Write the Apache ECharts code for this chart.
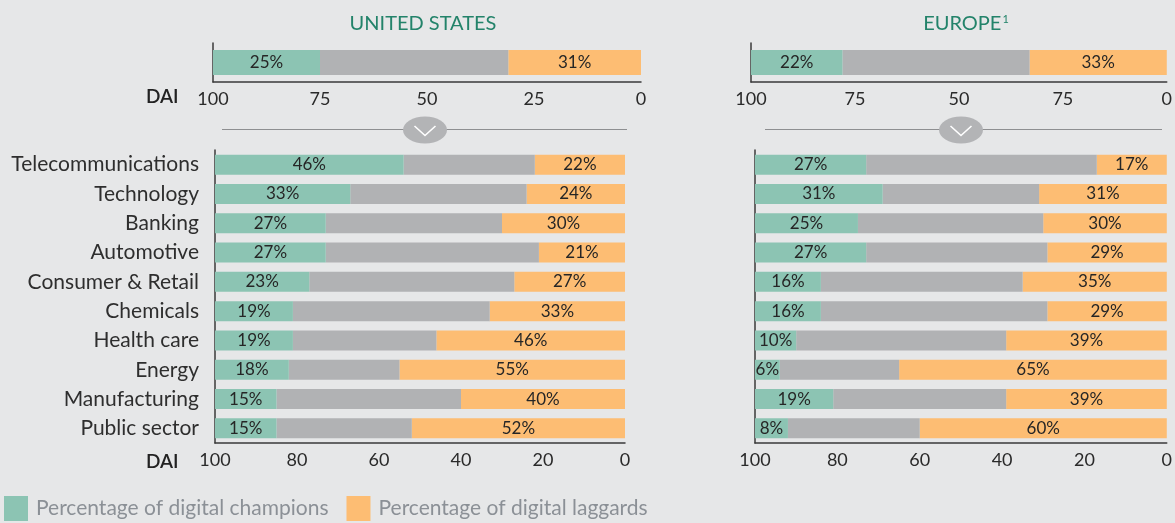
<!DOCTYPE html>
<html>
<head>
<meta charset="utf-8">
<script src="https://cdn.jsdelivr.net/npm/echarts@6/dist/echarts.min.js"></script>
<style>
html, body { margin: 0; padding: 0; background: #e6e7e8; }
#chart { width: 1175px; height: 523px; }
</style>
</head>
<body>
<div id="chart"></div>
<script>
// summary bars (DAI overall)
var usTotalChampions = [25];
var usTotalLaggards = [31];
var euTotalChampions = [22];
var euTotalLaggards = [33];

// industries
var industries = ['Telecommunications', 'Technology', 'Banking', 'Automotive', 'Consumer & Retail',
    'Chemicals', 'Health care', 'Energy', 'Manufacturing', 'Public sector'];
var usChampions = [46, 33, 27, 27, 23, 19, 19, 18, 15, 15];
var usLaggards = [22, 24, 30, 21, 27, 33, 46, 55, 40, 52];
var euChampions = [27, 31, 25, 27, 16, 16, 10, 6, 19, 8];
var euLaggards = [17, 31, 30, 29, 35, 29, 39, 65, 39, 60];

// tick labels, left to right (the europe summary axis reads 75 twice in the original)
var usTopTicks = ['100', '75', '50', '25', '0'];
var euTopTicks = ['100', '75', '50', '75', '0'];
var bottomTicks = ['100', '80', '60', '40', '20', '0'];

var GREEN = '#8cc4b3', GRAY = '#b1b2b4', ORANGE = '#fdbd73';
var FONT = 'Lato';
var CHAMP = 'Percentage of digital champions';
var LAG = 'Percentage of digital laggards';

function rest(g, o) {
    return g.map(function (v, i) { return 100 - v - o[i]; });
}

function xAxisFor(grid, step, ticks) {
    return {
        type: 'value', gridIndex: grid, min: 0, max: 100, interval: step, inverse: true,
        splitLine: { show: false },
        axisTick: { show: false },
        axisLine: { show: true, onZero: false, lineStyle: { color: '#3a3a3a', width: 1.5 } },
        axisLabel: {
            color: '#2a2a2a', fontSize: 18, fontFamily: FONT, margin: 8,
            formatter: function (v) { return ticks[Math.round((100 - v) / step)]; }
        }
    };
}

function yAxisFor(grid, cats, showLabels) {
    return {
        type: 'category', gridIndex: grid, data: cats, inverse: true, position: 'left',
        axisTick: { show: false },
        axisLine: { show: true, onZero: false, lineStyle: { color: '#3a3a3a', width: 1.5 } },
        axisLabel: { show: showLabels, color: '#2e2e2e', fontSize: 21, fontFamily: FONT, margin: 16 }
    };
}

function barSet(idx, champ, lag, width) {
    var lbl = { show: true, position: 'inside', color: '#262626', fontSize: 17, fontFamily: FONT, formatter: '{c}%' };
    return [
        { name: LAG, type: 'bar', xAxisIndex: idx, yAxisIndex: idx, stack: 's' + idx, data: lag,
          barWidth: width, itemStyle: { color: ORANGE }, label: lbl },
        { name: 'rest', type: 'bar', xAxisIndex: idx, yAxisIndex: idx, stack: 's' + idx, data: rest(champ, lag),
          barWidth: width, itemStyle: { color: GRAY }, label: { show: false } },
        { name: CHAMP, type: 'bar', xAxisIndex: idx, yAxisIndex: idx, stack: 's' + idx, data: champ,
          barWidth: width, itemStyle: { color: GREEN }, label: lbl }
    ];
}

// the little chevron dividers
function divider(x1, x2, cx) {
    return [
        { type: 'line', shape: { x1: x1, y1: 129.5, x2: x2, y2: 129.5 }, style: { stroke: '#8e8f91', lineWidth: 1 } },
        { type: 'ellipse', shape: { cx: cx, cy: 130, rx: 22, ry: 13.5 }, style: { fill: '#b3b4b6' } },
        { type: 'polyline', shape: { points: [[cx - 10.5, 126], [cx, 135.5], [cx + 10.5, 126]] },
          style: { stroke: '#fff', lineWidth: 1.6, fill: null } }
    ];
}

var chart = echarts.init(document.getElementById('chart'));
chart.setOption({
    backgroundColor: '#e6e7e8',
    animation: false,
    title: [
        { text: 'UNITED STATES', left: 418, top: 9, textAlign: 'center',
          textStyle: { color: '#23836a', fontSize: 20, fontWeight: 'normal', fontFamily: FONT } },
        { text: 'EUROPE{sup|1}', left: 961, top: 9, textAlign: 'center',
          textStyle: { color: '#23836a', fontSize: 20, fontWeight: 'normal', fontFamily: FONT,
              rich: { sup: { fontSize: 11, verticalAlign: 'top', padding: [0, 0, 8, 1], color: '#23836a', fontFamily: FONT } } } }
    ],
    legend: {
        data: [CHAMP, LAG], left: 4, top: 496, padding: 0, icon: 'rect', itemWidth: 24, itemHeight: 25, itemGap: 18,
        textStyle: { color: '#8b9096', fontSize: 21, fontFamily: FONT, padding: [0, 0, 2, 3] },
        selectedMode: false
    },
    grid: [
        { left: 213, right: 534, top: 43, height: 39 },
        { left: 751, right: 6, top: 43, height: 39 },
        { left: 215, right: 550, top: 150, height: 293 },
        { left: 755, right: 6, top: 150, height: 293 }
    ],
    xAxis: [
        xAxisFor(0, 25, usTopTicks),
        xAxisFor(1, 25, euTopTicks),
        xAxisFor(2, 20, bottomTicks),
        xAxisFor(3, 20, bottomTicks)
    ],
    yAxis: [
        yAxisFor(0, ['US'], false),
        yAxisFor(1, ['EU'], false),
        yAxisFor(2, industries, true),
        yAxisFor(3, industries, false)
    ],
    graphic: [
        { type: 'text', left: 146, top: 87, style: { text: 'DAI', fontSize: 19, fontWeight: 600, fontFamily: FONT, fill: '#222' } },
        { type: 'text', left: 146, top: 452, style: { text: 'DAI', fontSize: 19, fontWeight: 600, fontFamily: FONT, fill: '#222' } }
    ].concat(divider(222, 627, 425), divider(765, 1162, 961)),
    series: [].concat(
        barSet(0, usTotalChampions, usTotalLaggards, 25),
        barSet(1, euTotalChampions, euTotalLaggards, 25),
        barSet(2, usChampions, usLaggards, 20),
        barSet(3, euChampions, euLaggards, 20)
    )
});
</script>
</body>
</html>
